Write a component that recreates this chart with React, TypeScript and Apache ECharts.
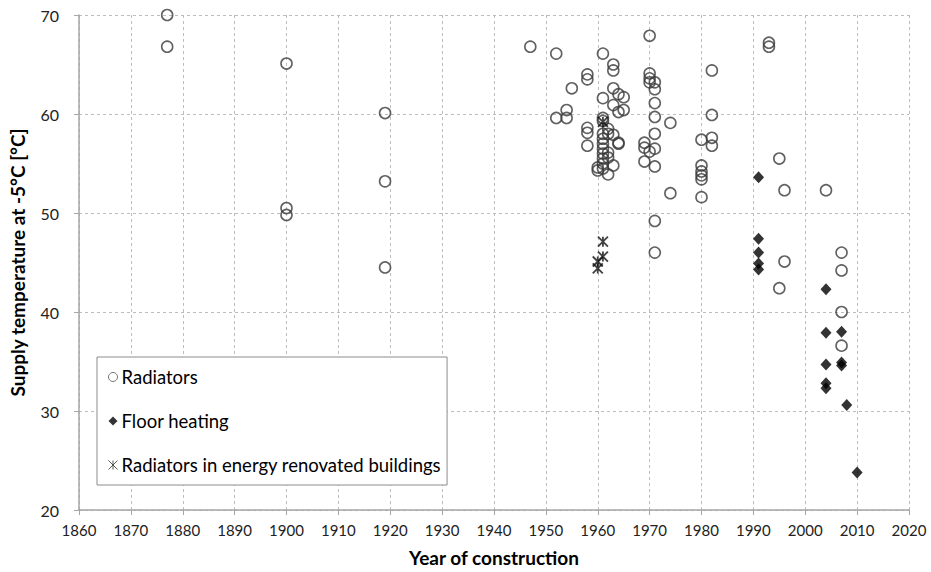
import React, { useEffect, useRef } from "react";
import * as echarts from "echarts";

const radiatorYears = [
  1877, 1877,
  1900, 1900, 1900,
  1919, 1919, 1919,
  1947,
  1952, 1952,
  1954, 1954,
  1955,
  1958, 1958, 1958, 1958, 1958,
  1960, 1960,
  1961, 1961, 1961, 1961, 1961, 1961, 1961, 1961, 1961, 1961, 1961, 1961,
  1962, 1962, 1962, 1962, 1962,
  1963, 1963, 1963, 1963, 1963, 1963,
  1964, 1964, 1964, 1964,
  1965, 1965,
  1969, 1969, 1969,
  1970, 1970, 1970, 1970, 1970,
  1971, 1971, 1971, 1971, 1971, 1971, 1971, 1971, 1971,
  1974, 1974,
  1980, 1980, 1980, 1980, 1980, 1980,
  1982, 1982, 1982, 1982,
  1993, 1993,
  1995, 1995,
  1996, 1996,
  2004,
  2007, 2007, 2007, 2007,
];
const radiatorTemps = [
  70.0, 66.8,
  65.1, 50.5, 49.8,
  60.1, 53.2, 44.5,
  66.8,
  66.1, 59.6,
  60.4, 59.6,
  62.6,
  64.0, 63.5, 58.6, 58.1, 56.8,
  54.6, 54.3,
  66.1, 61.6, 59.6, 59.3, 58.0, 57.5, 57.0, 56.5, 56.0, 55.5, 55.0, 54.5,
  58.5, 58.0, 56.1, 55.6, 53.9,
  65.0, 64.4, 62.6, 60.9, 57.9, 54.8,
  62.0, 60.2, 57.1, 57.0,
  61.7, 60.4,
  57.1, 56.6, 55.2,
  67.9, 64.1, 63.6, 63.2, 56.2,
  63.2, 62.5, 61.1, 59.7, 58.0, 56.5, 54.7, 49.2, 46.0,
  59.1, 52.0,
  57.4, 54.8, 54.2, 53.8, 53.4, 51.6,
  64.4, 59.9, 57.6, 56.8,
  67.2, 66.8,
  55.5, 42.4,
  52.3, 45.1,
  52.3,
  46.0, 44.2, 40.0, 36.6,
];

const floorYears = [1991, 1991, 1991, 1991, 1991, 2004, 2004, 2004, 2004, 2004, 2007, 2007, 2007, 2008, 2010];
const floorTemps = [53.6, 47.4, 46.0, 44.9, 44.3, 42.3, 37.9, 34.7, 32.8, 32.3, 38.0, 34.9, 34.6, 30.6, 23.8];

const renovatedYears = [1961, 1961, 1961, 1960, 1960];
const renovatedTemps = [59.2, 47.1, 45.6, 45.1, 44.4];

const seriesNames = ["Radiators", "Floor heating", "Radiators in energy renovated buildings"];
const xTitle = "Year of construction";
const yTitle = "Supply temperature at -5°C [°C]";

const zip = (xs: number[], ys: number[]) => xs.map((x, i) => [x, ys[i]]);

const FONT = "Lato, 'Open Sans', sans-serif";
const STAR = "path://M0,0L10,10M10,0L0,10M5,0L5,10";

export default function App() {
  const ref = useRef<HTMLDivElement>(null);
  useEffect(() => {
    if (!ref.current) return;
    const chart = echarts.init(ref.current, null, { renderer: "svg" });
    chart.setOption({
      animation: false,
      backgroundColor: "#ffffff",
      textStyle: { fontFamily: FONT },
      grid: { left: 77, right: 22, top: 15, bottom: 58, containLabel: false },
      legend: {
        orient: "vertical",
        left: 97,
        top: 357,
        padding: [10, 6, 10, 9],
        itemGap: 24,
        itemWidth: 9,
        itemHeight: 9,
        borderColor: "#8c8c8c",
        borderWidth: 1,
        backgroundColor: "#ffffff",
        textStyle: { fontFamily: FONT, fontSize: 18.5, color: "#000", lineHeight: 20, padding: [0, 0, 0, -1] },
        data: [
          { name: seriesNames[0], icon: "circle", itemStyle: { color: "#fff", borderColor: "#555", borderWidth: 1 } },
          { name: seriesNames[1], icon: "diamond", itemStyle: { color: "#000", borderWidth: 0 } },
          { name: seriesNames[2], icon: STAR, itemStyle: { color: "none", borderColor: "#333", borderWidth: 1 } },
        ],
      },
      xAxis: {
        type: "value",
        min: 1860,
        max: 2020,
        interval: 10,
        name: xTitle,
        nameLocation: "middle",
        nameGap: 38,
        nameTextStyle: { fontFamily: FONT, fontSize: 19, fontWeight: "bold", color: "#000" },
        axisLine: { show: true, onZero: false, lineStyle: { color: "#a6a6a6", width: 1.5 } },
        axisTick: { show: true, length: 5, lineStyle: { color: "#a6a6a6" } },
        axisLabel: { fontFamily: FONT, fontSize: 15, color: "#222", margin: 12, formatter: (v: number) => String(v) },
        splitLine: { show: true, lineStyle: { color: "#bdbdbd", type: [3, 3], width: 1 } },
      },
      yAxis: {
        type: "value",
        min: 20,
        max: 70,
        interval: 10,
        name: yTitle,
        nameLocation: "middle",
        nameGap: 52,
        nameTextStyle: { fontFamily: FONT, fontSize: 19, fontWeight: "bold", color: "#000" },
        axisLine: { show: true, onZero: false, lineStyle: { color: "#a6a6a6", width: 1.5 } },
        axisTick: { show: true, length: 5, lineStyle: { color: "#a6a6a6" } },
        axisLabel: { fontFamily: FONT, fontSize: 16, color: "#222", margin: 20 },
        splitLine: { show: true, lineStyle: { color: "#bdbdbd", type: [3, 3], width: 1 } },
      },
      series: [
        {
          name: seriesNames[0],
          type: "scatter",
          symbol: "circle",
          symbolSize: 11,
          itemStyle: { color: "rgba(255,255,255,0)", borderColor: "#3a3a3a", borderWidth: 1.6 },
          data: zip(radiatorYears, radiatorTemps),
          z: 2,
        },
        {
          name: seriesNames[1],
          type: "scatter",
          symbol: "diamond",
          symbolSize: [11, 12],
          itemStyle: { color: "#000", borderWidth: 0 },
          data: zip(floorYears, floorTemps),
          z: 3,
        },
        {
          name: seriesNames[2],
          type: "scatter",
          symbol: STAR,
          symbolSize: 10,
          itemStyle: { color: "none", borderColor: "#111", borderWidth: 1.8 },
          data: zip(renovatedYears, renovatedTemps),
          z: 4,
        },
      ],
    });
    return () => chart.dispose();
  }, []);
  return <div ref={ref} style={{ width: 931, height: 572, position: "absolute", left: 0, top: 0 }} />;
}
